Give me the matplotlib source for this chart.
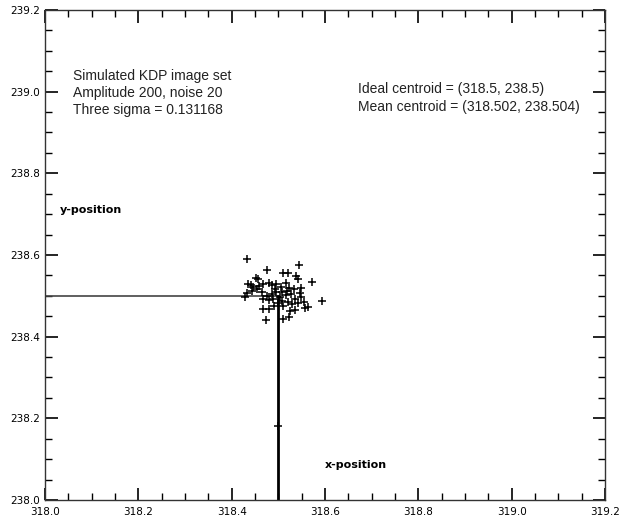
import numpy as np
import matplotlib
matplotlib.use("Agg")
import matplotlib.pyplot as plt
from matplotlib.ticker import MultipleLocator, FormatStrFormatter

# centroid estimates
x_pts = [318.432, 318.544, 318.476, 318.509, 318.520, 318.452, 318.456, 318.538,
         318.543, 318.573, 318.436, 318.441, 318.446, 318.459, 318.468, 318.479,
         318.486, 318.494, 318.506, 318.516, 318.523, 318.534, 318.548, 318.432,
         318.443, 318.454, 318.464, 318.475, 318.486, 318.496, 318.507, 318.516,
         318.527, 318.536, 318.549, 318.429, 318.594, 318.468, 318.479, 318.489,
         318.507, 318.520, 318.530, 318.543, 318.554, 318.468, 318.479, 318.525,
         318.536, 318.557, 318.563, 318.474, 318.509, 318.523, 318.500, 318.511,
         318.491, 318.493, 318.504, 318.518, 318.546, 318.500]
y_pts = [238.591, 238.576, 238.562, 238.557, 238.555, 238.544, 238.540, 238.549,
         238.542, 238.534, 238.530, 238.526, 238.522, 238.524, 238.530, 238.532,
         238.526, 238.528, 238.522, 238.531, 238.520, 238.516, 238.518, 238.508,
         238.512, 238.516, 238.509, 238.500, 238.504, 238.509, 238.509, 238.501,
         238.504, 238.493, 238.497, 238.498, 238.487, 238.491, 238.490, 238.493,
         238.487, 238.485, 238.479, 238.483, 238.485, 238.467, 238.467, 238.463,
         238.465, 238.469, 238.473, 238.441, 238.442, 238.447, 238.483, 238.475,
         238.475, 238.516, 238.496, 238.512, 238.508, 238.180]

ideal = (318.5, 238.5)
x_range = (318.0, 319.2)
y_range = (238.0, 239.2)

left_text = ["Simulated KDP image set", "Amplitude 200, noise 20", "Three sigma = 0.131168"]
right_text = ["Ideal centroid = (318.5, 238.5)", "Mean centroid = (318.502, 238.504)"]

fig = plt.figure(figsize=(6.28, 5.2), dpi=100)
ax = fig.add_axes([0.0717, 0.0385, 0.8917, 0.9423])

# reference lines to the ideal centroid
ax.plot([x_range[0], ideal[0]], [ideal[1], ideal[1]], color="#444444", lw=1.2)
ax.plot([ideal[0], ideal[0]], [y_range[0], ideal[1]], color="black", lw=2)
ax.plot(x_pts, y_pts, "+", color="black", ms=6, mew=1.1)

ax.set_xlim(*x_range)
ax.set_ylim(*y_range)
ax.xaxis.set_major_locator(MultipleLocator(0.2))
ax.xaxis.set_minor_locator(MultipleLocator(0.05))
ax.yaxis.set_major_locator(MultipleLocator(0.2))
ax.yaxis.set_minor_locator(MultipleLocator(0.05))
ax.xaxis.set_major_formatter(FormatStrFormatter("%.1f"))
ax.yaxis.set_major_formatter(FormatStrFormatter("%.1f"))
ax.tick_params(which="both", direction="in", top=True, right=True, labelsize=7.5)
ax.tick_params(which="major", length=9, width=1.2)
ax.tick_params(which="minor", length=5, width=1)
ax.tick_params(axis="x", pad=5)
for s in ax.spines.values():
    s.set_linewidth(1)
    s.set_color("#333333")

for i, t in enumerate(left_text):
    ax.text(0.05, 0.865 - i * 0.035, t, transform=ax.transAxes, family="Liberation Sans",
            fontsize=10, va="center", color="#222222")
for i, t in enumerate(right_text):
    ax.text(0.558, 0.838 - i * 0.035, t, transform=ax.transAxes, family="Liberation Sans",
            fontsize=10, va="center", color="#222222")

ax.text(0.027, 0.592, "y-position", transform=ax.transAxes, fontsize=8, fontweight="bold", va="center")
ax.text(0.5, 0.072, "x-position", transform=ax.transAxes, fontsize=8, fontweight="bold", va="center")

fig.savefig("out.png", dpi=100)
